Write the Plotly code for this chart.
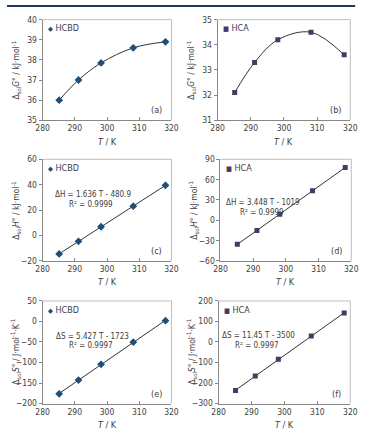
import numpy as np
import plotly.graph_objects as go

W, H = 365, 430

# ---- data ----
T = [285.15, 291.15, 298.15, 308.15, 318.15]
G_HCBD = [36.0, 37.0, 37.85, 38.6, 38.9]
G_HCA = [32.1, 33.3, 34.2, 34.5, 33.6]
H_HCBD = [-14.5, -4.6, 6.9, 23.1, 39.5]
H_HCA = [-35.5, -15.0, 9.0, 43.5, 78.0]
S_HCBD = [-176.5, -143.0, -104.5, -50.5, 2.0]
S_HCA = [-237.0, -166.0, -84.0, 29.0, 141.0]

eq_text = ["ΔH = 1.636 T - 480.9", "ΔH = 3.448 T - 1019",
           "ΔS = 5.427 T - 1723", "ΔS = 11.45 T - 3500"]
r2_text = ["R² = 0.9999", "R² = 0.9999", "R² = 0.9997", "R² = 0.9997"]
panel_labels = ["(a)", "(b)", "(c)", "(d)", "(e)", "(f)"]

C_HCBD = "#1f4e79"
C_HCA = "#4b3763"
FONT = "DejaVu Sans Condensed, Liberation Sans"
TXT = "#404040"

# panel pixel boxes: x0, x1, y0(top), y1(bottom)
boxes = [
    (37, 171, 15, 118), (219, 357, 15, 118),
    (37, 171, 158, 262), (222, 358, 158, 262),
    (37, 171, 303, 408), (220, 357, 303, 408),
]
yranges = [(35, 40, 1), (31, 35, 1), (-20, 60, 20), (-60, 90, 30), (-200, 50, 50), (-300, 200, 100)]
series = [G_HCBD, G_HCA, H_HCBD, H_HCA, S_HCBD, S_HCA]
names = ["HCBD", "HCA"] * 3
ytitles = ["Δ<sub>sol</sub><i>G</i>° / kJ·mol<sup>-1</sup>"] * 2 + \
          ["Δ<sub>sol</sub><i>H</i>° / kJ·mol<sup>-1</sup>"] * 2 + \
          ["Δ<sub>sol</sub><i>S</i>° / J·mol<sup>-1</sup>·K<sup>-1</sup>"] * 2

fig = go.Figure()
annotations = []
shapes = []

def px_x(p):
    return p / W

def px_y(p):
    return 1 - p / H

for i in range(6):
    x0, x1, y0, y1 = boxes[i]
    xa = "x" if i == 0 else f"x{i+1}"
    ya = "y" if i == 0 else f"y{i+1}"
    xkey = "xaxis" if i == 0 else f"xaxis{i+1}"
    ykey = "yaxis" if i == 0 else f"yaxis{i+1}"
    hcbd = (i % 2 == 0)
    col = C_HCBD if hcbd else C_HCA
    vals = series[i]
    if i < 2:
        fig.add_trace(go.Scatter(x=T, y=vals, mode="lines", line=dict(color="#333333", width=1, shape="spline", smoothing=1.0),
                                 xaxis=xa, yaxis=ya, showlegend=False, hoverinfo="skip"))
    else:
        k, b = np.polyfit(T, vals, 1)
        xs = np.array([T[0], T[-1]])
        fig.add_trace(go.Scatter(x=xs, y=k * xs + b, mode="lines", line=dict(color="#333333", width=1),
                                 xaxis=xa, yaxis=ya, showlegend=False, hoverinfo="skip"))
    fig.add_trace(go.Scatter(x=T, y=vals, mode="markers",
                             marker=dict(symbol="diamond" if hcbd else "square", size=6 if hcbd else 5, color=col,
                                         line=dict(width=0)),
                             xaxis=xa, yaxis=ya, showlegend=False, name=names[i]))
    lo, hi, dt = yranges[i]
    fig.layout[xkey] = dict(domain=[px_x(x0), px_x(x1)], range=[280, 320], dtick=10, anchor=ya,
                            showline=True, linecolor="#868686", linewidth=1, ticks="inside", ticklen=3,
                            tickcolor="#868686", showgrid=False, zeroline=False,
                            tickfont=dict(family=FONT, size=8.5, color=TXT), fixedrange=True)
    fig.layout[ykey] = dict(domain=[px_y(y1), px_y(y0)], range=[lo, hi], dtick=dt, anchor=xa,
                            showline=True, linecolor="#868686", linewidth=1, ticks="outside", ticklen=3,
                            tickcolor="#868686", showgrid=False, zeroline=False,
                            tickfont=dict(family=FONT, size=8.5, color=TXT), fixedrange=True)
    # top/right border of plot area
    shapes.append(dict(type="path", xref=f"{xa} domain", yref=f"{ya} domain",
                       path="M 0 1 L 1 1 L 1 0", line=dict(color="#bfbfbf", width=1)))
    # x title
    annotations.append(dict(x=px_x((x0 + x1) / 2), y=px_y(y1 + 22), xref="paper", yref="paper",
                            text="<i>T</i> / K", showarrow=False, font=dict(family=FONT, size=9, color=TXT),
                            xanchor="center", yanchor="middle"))
    # y title
    annotations.append(dict(x=px_x(x0 - 28), y=px_y((y0 + y1) / 2), xref="paper", yref="paper",
                            text=ytitles[i], textangle=-90, showarrow=False,
                            font=dict(family=FONT, size=8.5, color=TXT), xanchor="center", yanchor="middle"))
    # legend-like label
    sym = "◆" if hcbd else "■"
    annotations.append(dict(x=px_x(x0 + 4), y=px_y(y0 + 9), xref="paper", yref="paper",
                            text=f"<span style='color:{col};font-size:7px'>{sym}</span> {names[i]}", showarrow=False,
                            font=dict(family=FONT, size=9, color=TXT), xanchor="left", yanchor="middle"))
    # panel label
    annotations.append(dict(x=px_x(x1 - 8), y=px_y(y1 - 10), xref="paper", yref="paper",
                            text=panel_labels[i], showarrow=False, font=dict(family=FONT, size=9, color=TXT),
                            xanchor="right", yanchor="middle"))

eq_pos = [((89, 194), (87, 204)), ((266, 202), (265, 212)),
          ((89, 339), (87, 349)), ((262, 338), (260, 349))]
for j in range(4):
    (ex, ey), (rx, ry) = eq_pos[j]
    annotations.append(dict(x=px_x(ex), y=px_y(ey), xref="paper", yref="paper", text=eq_text[j],
                            showarrow=False, font=dict(family=FONT, size=8, color=TXT), xanchor="center", yanchor="middle"))
    annotations.append(dict(x=px_x(rx), y=px_y(ry), xref="paper", yref="paper", text=r2_text[j],
                            showarrow=False, font=dict(family=FONT, size=8, color=TXT), xanchor="center", yanchor="middle"))

# top navy rule
shapes.append(dict(type="line", xref="paper", yref="paper", x0=0, x1=362 / W, y0=1 - 1 / H, y1=1 - 1 / H,
                   line=dict(color="#1f3864", width=2)))

fig.update_layout(width=W, height=H, margin=dict(l=0, r=0, t=0, b=0),
                  paper_bgcolor="white", plot_bgcolor="white",
                  annotations=annotations, shapes=shapes, showlegend=False)
fig.write_html("out.html", config={"displayModeBar": False})
